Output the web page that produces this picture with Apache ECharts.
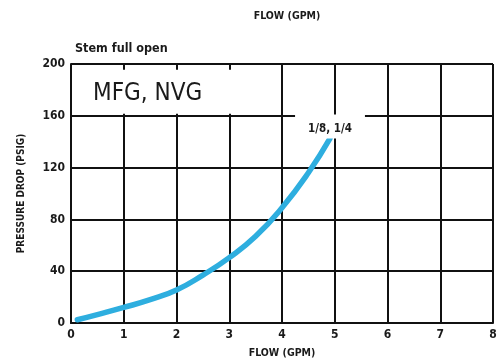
<!DOCTYPE html>
<html>
<head>
<meta charset="utf-8">
<script src="https://cdn.jsdelivr.net/npm/echarts@6/dist/echarts.min.js"></script>
<style>
  html, body { margin: 0; padding: 0; background: #fff; }
  #chart { width: 503px; height: 364px; }
</style>
</head>
<body>
<div id="chart"></div>
<script>
// Pressure drop vs. flow, stem full open
const flowGpm = [0.12, 0.5, 1, 1.5, 2, 2.5, 3, 3.5, 4, 4.5, 4.91];
const pressureDropPsig = [2.5, 6.5, 12, 18, 25.5, 37, 50.5, 67, 89, 116, 142.5];
const xTicks = [0, 1, 2, 3, 4, 5, 6, 7, 8];
const yTicks = [0, 40, 80, 120, 160, 200];
const curveName = '1/8, 1/4';
const modelTitle = 'MFG, NVG';
const subTitle = 'Stem full open';
const xAxisName = 'FLOW (GPM)';
const yAxisName = 'PRESSURE DROP (PSIG)';

const FONT = '"DejaVu Sans Condensed", "Liberation Sans Narrow", "Liberation Sans", sans-serif';

const chart = echarts.init(document.getElementById('chart'), null, { renderer: 'canvas' });

const points = flowGpm.map((x, i) => [x, pressureDropPsig[i]]);

chart.setOption({
  animation: false,
  backgroundColor: '#ffffff',
  grid: { left: 71, right: 10, top: 64, bottom: 34, containLabel: false },
  title: [
    {
      text: xAxisName, left: 282, top: 6, textAlign: 'center',
      textStyle: { fontFamily: FONT, fontSize: 10.5, fontWeight: 'bold', color: '#1a1a1a' }
    },
    {
      text: subTitle, left: 70, top: 37,
      textStyle: { fontFamily: FONT, fontSize: 12.5, fontWeight: 'bold', color: '#1a1a1a' }
    },
    {
      text: modelTitle, left: 88, top: 77,
      textStyle: { fontFamily: FONT, fontSize: 24, fontWeight: 'normal', color: '#1a1a1a' }
    }
  ],
  xAxis: {
    type: 'value', min: xTicks[0], max: xTicks[xTicks.length - 1], interval: 1,
    name: xAxisName, nameLocation: 'middle', nameGap: 25,
    nameTextStyle: { fontFamily: FONT, fontSize: 10.5, fontWeight: 'bold', color: '#1a1a1a' },
    axisLine: { show: true, lineStyle: { color: '#111', width: 2 } },
    axisTick: { show: false },
    axisLabel: { fontFamily: FONT, fontSize: 12, fontWeight: 'bold', color: '#1a1a1a', margin: 6 },
    splitLine: { show: true, lineStyle: { color: '#111', width: 2 } }
  },
  yAxis: {
    type: 'value', min: yTicks[0], max: yTicks[yTicks.length - 1], interval: 40,
    name: yAxisName, nameLocation: 'middle', nameGap: 45, nameRotate: 90,
    nameTextStyle: { fontFamily: FONT, fontSize: 10, fontWeight: 'bold', color: '#1a1a1a' },
    axisLine: { show: true, lineStyle: { color: '#111', width: 2 } },
    axisTick: { show: false },
    axisLabel: { fontFamily: FONT, fontSize: 12, fontWeight: 'bold', color: '#1a1a1a', margin: 6 },
    splitLine: { show: true, lineStyle: { color: '#111', width: 2 } }
  },
  series: [
    {
      // white panel behind the model title, over the grid
      type: 'line', data: [], silent: true,
      markArea: {
        silent: true,
        itemStyle: { color: '#ffffff', opacity: 1 },
        data: [
          [{ coord: [0.03, 195.5] }, { coord: [3.93, 161.5] }]
        ]
      }
    },
    {
      name: curveName,
      type: 'line',
      data: points,
      smooth: 0.5,
      showSymbol: false,
      lineStyle: { color: '#2eaedf', width: 5.5, cap: 'round' },
      endLabel: {
        show: true,
        formatter: curveName,
        fontFamily: FONT, fontSize: 11.5, fontWeight: 'bold', color: '#1a1a1a',
        backgroundColor: '#ffffff',
        padding: [9, 13, 3, 13],
        align: 'center', verticalAlign: 'bottom',
        offset: [-8, 0]
      },
      z: 3
    }
  ]
});
</script>
</body>
</html>
